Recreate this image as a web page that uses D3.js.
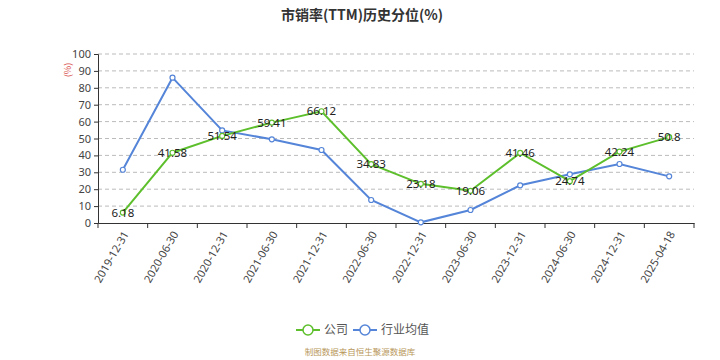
<!DOCTYPE html>
<html><head><meta charset="utf-8">
<script src="https://cdn.jsdelivr.net/npm/d3@7"></script>
<style>body{margin:0;background:#fff;}svg{display:block;font-family:"Noto Sans CJK SC","Noto Sans",sans-serif;}</style>
</head><body><svg id="c" width="720" height="360"></svg>
<script>
const categories = ["2019-12-31","2020-06-30","2020-12-31","2021-06-30","2021-12-31","2022-06-30","2022-12-31","2023-06-30","2023-12-31","2024-06-30","2024-12-31","2025-04-18"];
const company = [6.18,41.58,51.54,59.41,66.12,34.83,23.18,19.06,41.46,24.74,42.24,50.8];
const industry = [31.5,86.0,54.8,49.5,43.2,13.6,0.4,7.7,22.3,28.8,34.9,27.6];
const yTicks = [0,10,20,30,40,50,60,70,80,90,100];
const seriesNames = ["公司","行业均值"];
const colors = ["#5dbf2c","#5585d8"];

const svg = d3.select("#c");
const L=98, R=694, T=54, B=223;
const x = d3.scaleBand().domain(categories).range([L,R]);
const y = d3.scaleLinear().domain([0,100]).range([B,T]);

svg.append("text").attr("x",362).attr("y",20).attr("text-anchor","middle")
  .attr("font-size",14).attr("font-weight","bold").attr("fill","#333").text("市销率(TTM)历史分位(%)");

// grid
svg.append("g").selectAll("line").data(yTicks.filter(d=>d>0)).join("line")
  .attr("x1",L).attr("x2",R).attr("y1",d=>y(d)).attr("y2",d=>y(d))
  .attr("stroke","#bbb").attr("stroke-dasharray","4,3").attr("stroke-width",1);

// y axis
const ya = svg.append("g").attr("transform",`translate(${L},0)`)
  .call(d3.axisLeft(y).tickValues(yTicks).tickSize(4).tickPadding(3));
ya.select(".domain").attr("stroke","#333");
ya.selectAll(".tick line").attr("stroke","#333");
ya.selectAll("text").attr("font-size",11).attr("fill","#444").attr("font-family","Noto Sans, sans-serif");

svg.append("text").attr("transform","translate(71,70) rotate(-90)").attr("text-anchor","middle")
  .attr("font-size",9).attr("fill","#d9534f").text("(%)");

// x axis
const xa = svg.append("g").attr("transform",`translate(0,${B})`)
  .call(d3.axisBottom(x).tickSize(0).tickFormat(""));
xa.select(".domain").attr("stroke","#333");
const bounds = categories.map(c=>x(c)).concat([R]);
svg.append("g").selectAll("line").data(bounds).join("line")
  .attr("x1",d=>d).attr("x2",d=>d).attr("y1",B).attr("y2",B+5).attr("stroke","#333");
svg.append("g").selectAll("text").data(categories).join("text")
  .attr("transform",d=>`translate(${x(d)+x.bandwidth()/2+3},${B+9}) rotate(-60)`)
  .attr("text-anchor","end").attr("dy","0.35em").attr("font-size",11).attr("fill","#444")
  .attr("font-family","Noto Sans, sans-serif").text(d=>d);

const cx = c=>x(c)+x.bandwidth()/2;
const line = d3.line().x((d,i)=>cx(categories[i])).y(d=>y(d));
[industry, company].forEach((data,k)=>{
  const col = k===0?colors[1]:colors[0];
  svg.append("path").datum(data).attr("d",line).attr("fill","none").attr("stroke",col).attr("stroke-width",2);
  svg.append("g").selectAll("circle").data(data).join("circle")
    .attr("cx",(d,i)=>cx(categories[i])).attr("cy",d=>y(d)).attr("r",2.5)
    .attr("fill","#fff").attr("stroke",col).attr("stroke-width",1.2);
});
svg.append("g").selectAll("text").data(company).join("text")
  .attr("x",(d,i)=>cx(categories[i])).attr("y",d=>y(d)).attr("dy","0.35em")
  .attr("text-anchor","middle").attr("font-size",11.5).attr("fill","#222")
  .attr("font-family","Noto Sans, sans-serif").text(d=>d);

// legend
const lg = [{n:seriesNames[0],c:colors[0],x:296},{n:seriesNames[1],c:colors[1],x:353}];
lg.forEach(o=>{
  svg.append("line").attr("x1",o.x).attr("x2",o.x+24).attr("y1",330).attr("y2",330).attr("stroke",o.c).attr("stroke-width",2);
  svg.append("circle").attr("cx",o.x+12).attr("cy",330).attr("r",5).attr("fill","#fff").attr("stroke",o.c).attr("stroke-width",1.5);
  svg.append("text").attr("x",o.x+28).attr("y",330).attr("dy","0.35em").attr("font-size",12).attr("fill","#555").text(o.n);
});
svg.append("text").attr("x",360).attr("y",355).attr("text-anchor","middle").attr("font-size",8.5)
  .attr("fill","#b8975a").text("制图数据来自恒生聚源数据库");
</script></body></html>
